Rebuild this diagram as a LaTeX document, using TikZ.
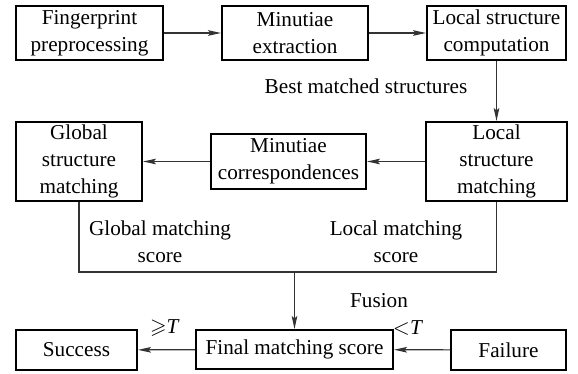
\documentclass[tikz,border=0pt]{standalone}
\usepackage{amssymb}
\usepackage{fontspec}
\setmainfont{Liberation Serif}
\newfontfamily\diagfont{Liberation Serif}
\usetikzlibrary{arrows.meta}
\begin{document}
\begin{tikzpicture}[x=0.5pt,y=-0.5pt,
  every node/.style={font=\diagfont\fontsize{10.6}{13.6}\selectfont, inner sep=1pt, align=center},
  blk/.style={draw, line width=1pt, rectangle},
  lbl/.style={},
  flow/.style={draw=black!80, line width=0.6pt},
  arr/.style={flow, -{Stealth[length=6.5pt,width=2.8pt,inset=1.2pt]}}]
\useasboundingbox (0,0) rectangle (578,374);

% top row
\node[blk, minimum width=73.5pt, minimum height=27pt] (pre) at (89.5,33) {Fingerprint\\preprocessing};
\node[blk, minimum width=73pt, minimum height=27pt] (ext) at (295,33) {Minutiae\\extraction};
\node[blk, minimum width=69.5pt, minimum height=27pt] (comp) at (496.5,33) {Local structure\\computation};

% middle row
\node[blk, minimum width=63pt, minimum height=39.5pt] (glob) at (79,161.5) {Global\\structure\\matching};
\node[blk, minimum width=77.5pt, minimum height=27.5pt] (corr) at (288.5,161.5) {Minutiae\\correspondences};
\node[blk, minimum width=70.5pt, minimum height=39.5pt] (loc) at (496.5,161.5) {Local\\structure\\matching};

% bottom row
\node[blk, minimum width=60.5pt, minimum height=20pt] (succ) at (76.5,350) {Success};
\node[blk, minimum width=98.5pt, minimum height=19.5pt] (final) at (294.5,349.5) {Final matching score};
\node[blk, minimum width=57.5pt, minimum height=20pt] (fail) at (508.5,350) {Failure};

% labels
\node[lbl] (best) at (366,86) {Best matched structures};
\node[lbl] (gscore) at (160,242) {Global matching\\score};
\node[lbl] (lscore) at (396,242) {Local matching\\score};
\node[lbl] (fusion) at (379,301) {Fusion};
\node[lbl] (geT) at (165,328) {${\geqslant}$\textit{T}};
\node[lbl] (ltT) at (408,328) {${<}$\textit{T}};

% connectors
\coordinate (join) at (294.5,272);
\draw[arr] (pre) -- (ext);
\draw[arr] (ext) -- (comp);
\draw[arr] (comp) -- (loc);
\draw[arr] (loc) -- (corr);
\draw[arr] (corr) -- (glob);
\draw[flow] (glob.south) |- (join) -| (loc.south);
\draw[arr] (join) -- (final);
\draw[arr] (final) -- (succ);
\draw[arr] (fail) -- (final);
\end{tikzpicture}
\end{document}
